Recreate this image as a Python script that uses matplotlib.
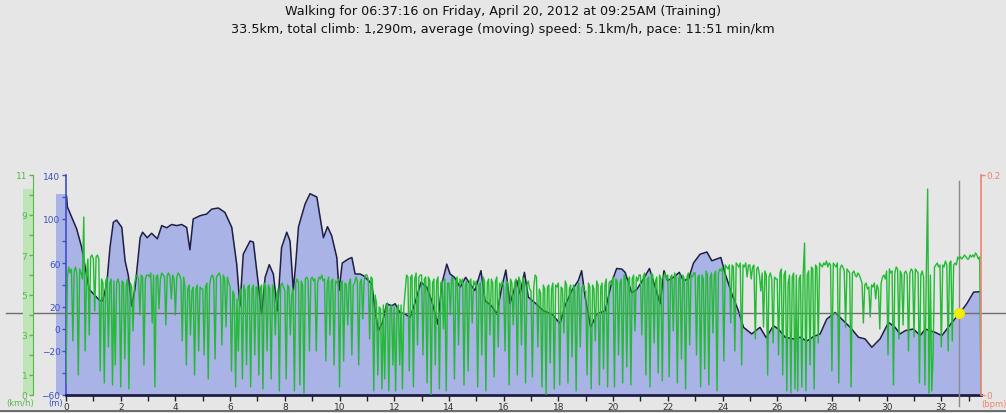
import numpy as np
import matplotlib
matplotlib.use("Agg")
import matplotlib.pyplot as plt
from matplotlib.lines import Line2D
from matplotlib.patches import Rectangle
from matplotlib.transforms import blended_transform_factory

title_1 = "Walking for 06:37:16 on Friday, April 20, 2012 at 09:25AM (Training)"
title_2 = "33.5km, total climb: 1,290m, average (moving) speed: 5.1km/h, pace: 11:51 min/km"

# elevation profile (km, m)
elev_km = [0.00, 0.02, 0.05, 0.39, 0.57, 0.85, 1.24, 1.34, 1.49, 1.61, 1.73, 1.85, 2.04, 2.16,
           2.28, 2.40, 2.52, 2.71, 2.80, 2.97, 3.13, 3.34, 3.50, 3.68, 3.86, 4.05, 4.23, 4.41,
           4.53, 4.65, 4.90, 5.14, 5.33, 5.57, 5.81, 6.06, 6.24, 6.36, 6.48, 6.73, 6.85, 7.03,
           7.15, 7.28, 7.43, 7.58, 7.73, 7.88, 8.07, 8.19, 8.31, 8.40, 8.50, 8.74, 8.92, 9.17,
           9.41, 9.56, 9.71, 9.90, 9.98, 10.10, 10.32, 10.45, 10.57, 10.75, 10.87, 11.00, 11.18,
           11.30, 11.42, 11.57, 11.72, 11.91, 12.03, 12.21, 12.40, 12.58, 12.76, 12.98, 13.19,
           13.37, 13.59, 13.74, 13.92, 14.04, 14.20, 14.41, 14.61, 14.77, 14.95, 15.17, 15.32,
           15.56, 15.75, 15.93, 16.08, 16.23, 16.48, 16.60, 16.76, 16.90, 17.18, 17.45, 17.76,
           18.06, 18.24, 18.49, 18.73, 18.85, 18.98, 19.18, 19.40, 19.71, 19.95, 20.13, 20.32,
           20.44, 20.68, 20.87, 21.11, 21.33, 21.54, 21.72, 21.86, 21.99, 22.21, 22.42, 22.57,
           22.76, 22.94, 23.18, 23.43, 23.61, 23.79, 23.94, 24.10, 24.34, 24.58, 24.77, 25.07,
           25.37, 25.60, 25.86, 26.04, 26.29, 26.59, 26.84, 27.08, 27.32, 27.57, 27.81, 28.12,
           28.36, 28.67, 28.97, 29.21, 29.46, 29.76, 30.07, 30.31, 30.49, 30.68, 30.98, 31.23,
           31.41, 31.77, 32.02, 32.39, 32.69, 32.93, 33.18, 33.42, 33.45]
elev_m = [121, 121, 111, 91, 74.5, 36, 25.7, 25.7, 41, 74.5, 97, 99, 92.4, 62,
          48.5, 21, 36, 83, 88, 83, 87, 82, 94, 92, 95, 94, 95, 92.4,
          72, 100, 103, 104.5, 109, 110, 106, 92.4, 59, 21, 68, 80, 79, 41,
          13.6, 47, 58.5, 50, 16.6, 74, 88, 80, 35, 60, 93, 113.6, 123, 120,
          83, 93, 85, 65, 35, 60, 63.6, 65, 50, 50, 48.5, 45.5, 41,
          16.6, -1.5, 6, 23, 21, 23, 15, 13.6, 10.6, 24, 42.5, 38,
          25.7, 4.5, 41, 59, 50, 47, 38, 47, 41, 35, 53, 25.7,
          21, 13.6, 38, 53.6, 23, 44, 32, 51.5, 29, 23, 16.6, 13.6,
          5, 21, 35, 44, 53, 29, 1.5, 13.6, 16.6, 42.5, 55, 54.5,
          51.5, 33, 36, 45.5, 55, 38, 23, 53, 44, 47, 51.5, 44,
          45.5, 60, 68, 70, 62, 63.6, 65, 50, 32, 16.6, 1.5, -4.5,
          1.5, -8, 3, 0, -7.5, -9, -7.5, -11, -7, -4.5, 9, 15,
          9, 1.5, -7.5, -9, -16.6, -9, 6, 1.5, -4.5, -1.5, 0, -6,
          0, -3, -6, 6, 15, 23, 33.5, 34, 34]

# speed every 0.05 km (km/h), one row per km
speed = [
    0.6, 5.9, 6.4, 6.1, 6.3, 2.7, 6.2, 6.4, 6.0, 1.0, 6.3, 6.1, 5.8, 8.9, 2.2, 6.0, 6.8, 3.0, 6.9, 7.0,
    6.8, 4.2, 6.9, 7.0, 6.8, 1.2, 5.8, 5.6, 0.6, 5.7, 5.9, 2.4, 5.6, 5.8, 0.5, 5.7, 1.5, 5.6, 5.8, 5.5,
    0.4, 5.7, 5.6, 1.8, 5.5, 5.8, 0.3, 5.6, 5.4, 3.2, 5.5, 5.9, 6.0, 5.8, 4.0, 6.0, 5.9, 1.5, 5.8, 6.0,
    6.0, 5.9, 6.1, 3.6, 6.0, 0.4, 5.9, 6.0, 4.3, 5.8, 6.1, 6.0, 5.9, 3.5, 6.0, 6.1, 5.9, 4.8, 6.0, 5.8,
    4.0, 5.9, 6.1, 6.0, 5.8, 2.7, 5.9, 5.4, 1.5, 5.3, 5.5, 3.0, 5.2, 5.4, 1.0, 5.3, 5.5, 2.2, 5.4, 5.3,
    5.3, 2.0, 5.4, 5.6, 0.8, 5.5, 5.9, 6.0, 5.8, 1.8, 5.9, 6.0, 6.1, 5.9, 2.5, 6.0, 5.8, 3.4, 5.9, 5.6,
    5.4, 1.2, 5.2, 5.0, 0.4, 4.8, 2.2, 5.1, 5.3, 0.8, 5.5, 5.2, 1.5, 5.4, 5.5, 0.4, 5.3, 5.5, 2.0, 5.4,
    5.4, 1.0, 5.3, 5.5, 0.3, 5.6, 5.4, 2.2, 5.5, 5.3, 0.8, 5.5, 5.2, 3.0, 5.0, 5.3, 0.2, 5.5, 5.6, 5.4,
    5.2, 0.8, 5.5, 5.4, 3.0, 5.0, 5.3, 0.2, 5.6, 5.8, 5.6, 0.5, 5.7, 5.5, 0.1, 5.8, 5.9, 5.7, 2.2, 5.8,
    5.9, 5.7, 5.8, 2.2, 5.6, 5.9, 5.8, 6.0, 5.7, 5.8, 1.7, 5.6, 5.9, 3.0, 5.7, 5.8, 1.5, 5.7, 5.6, 5.8,
    0.4, 5.6, 5.7, 1.7, 5.6, 5.5, 3.5, 5.6, 5.8, 2.0, 5.5, 5.6, 5.9, 5.7, 1.5, 5.6, 5.8, 3.8, 5.7, 6.0,
    6.0, 5.8, 2.8, 5.9, 5.8, 0.2, 5.0, 4.6, 1.0, 4.4, 4.3, 0.3, 4.5, 0.8, 4.4, 4.6, 0.2, 4.3, 4.5, 1.5,
    4.4, 0.2, 4.3, 4.5, 1.5, 4.5, 0.3, 4.4, 5.2, 6.0, 5.9, 1.2, 5.9, 6.0, 0.4, 5.8, 6.1, 2.5, 5.9, 6.0,
    6.0, 2.0, 5.8, 5.9, 0.6, 5.9, 5.7, 0.0, 5.6, 5.8, 1.5, 5.7, 5.9, 0.3, 5.6, 5.7, 3.3, 5.8, 0.2, 5.6,
    5.6, 4.0, 5.9, 5.8, 0.8, 5.7, 5.9, 2.5, 5.8, 5.6, 5.8, 0.5, 5.5, 5.7, 1.2, 5.6, 5.8, 3.6, 5.7, 5.5,
    5.7, 0.4, 5.5, 5.6, 2.0, 5.9, 5.7, 0.2, 5.6, 5.8, 3.0, 5.8, 5.6, 0.9, 5.7, 5.9, 2.4, 5.6, 5.4, 5.7,
    5.4, 2.2, 5.7, 5.6, 0.5, 5.8, 5.6, 3.5, 5.6, 5.8, 1.0, 5.9, 5.7, 2.5, 5.9, 5.6, 0.6, 5.5, 5.7, 5.3,
    5.2, 0.9, 5.4, 6.0, 5.9, 2.4, 5.3, 5.1, 0.4, 5.5, 5.3, 0.0, 5.4, 5.5, 1.6, 5.3, 5.6, 0.3, 5.5, 5.4,
    5.6, 0.5, 5.4, 5.3, 3.1, 5.7, 5.5, 0.6, 5.3, 5.5, 1.9, 5.5, 5.2, 0.2, 5.4, 5.6, 2.4, 5.3, 5.5, 5.2,
    5.2, 1.0, 5.6, 5.4, 0.3, 5.5, 5.3, 2.7, 5.7, 5.5, 0.5, 5.4, 5.6, 1.3, 5.5, 5.8, 0.4, 5.6, 5.7, 5.5,
    5.9, 0.4, 5.8, 5.7, 2.0, 5.6, 5.8, 0.6, 6.0, 5.9, 1.4, 5.7, 5.9, 0.5, 5.8, 6.0, 3.2, 5.9, 5.7, 6.0,
    6.0, 3.0, 5.9, 6.1, 1.0, 5.8, 5.9, 0.4, 6.1, 6.0, 2.6, 5.7, 5.9, 1.1, 6.0, 5.8, 0.7, 5.9, 6.1, 5.8,
    6.0, 0.9, 5.9, 6.0, 3.2, 6.1, 5.9, 0.6, 5.8, 6.0, 1.8, 6.0, 5.8, 0.3, 5.9, 6.1, 2.5, 6.0, 5.9, 6.1,
    6.1, 2.0, 5.9, 6.0, 0.4, 6.0, 5.8, 1.3, 6.2, 6.0, 0.5, 5.9, 6.1, 3.1, 6.0, 6.2, 0.2, 6.1, 6.3, 6.2,
    6.4, 1.7, 6.5, 6.4, 6.3, 6.5, 3.6, 6.5, 6.4, 2.2, 6.6, 6.5, 6.4, 6.6, 1.5, 6.5, 6.4, 6.6, 5.9, 6.5,
    6.5, 5.8, 6.4, 6.5, 2.8, 6.3, 6.4, 6.0, 5.2, 6.1, 3.4, 6.2, 6.0, 1.0, 5.9, 6.1, 5.8, 2.6, 5.9, 5.8,
    5.8, 2.0, 6.1, 6.3, 1.0, 6.0, 6.2, 0.2, 5.6, 6.0, 0.1, 5.9, 6.1, 0.3, 6.0, 0.2, 5.8, 6.0, 0.4, 6.1,
    7.6, 0.2, 6.0, 6.2, 1.5, 6.4, 6.3, 0.3, 6.5, 6.4, 2.6, 6.6, 6.5, 6.4, 6.6, 6.5, 6.7, 6.4, 6.6, 6.5,
    1.2, 6.6, 6.5, 6.4, 6.6, 0.6, 6.3, 6.5, 6.4, 6.2, 3.4, 6.3, 6.2, 6.1, 0.4, 6.1, 6.2, 6.0, 5.9, 6.1,
    6.0, 5.8, 5.6, 3.6, 5.5, 5.6, 5.3, 5.4, 3.9, 5.5, 5.4, 5.6, 4.8, 5.5, 5.3, 3.3, 5.6, 5.9, 6.0, 5.8,
    6.2, 2.0, 6.3, 6.1, 6.2, 0.5, 6.1, 6.4, 6.3, 2.8, 6.2, 6.0, 3.5, 6.1, 6.2, 6.0, 2.2, 6.1, 6.3, 6.2,
    2.9, 6.3, 6.2, 6.1, 0.6, 6.0, 6.2, 5.9, 0.5, 6.1, 10.3, 0.1, 6.0, 0.2, 2.0, 6.4, 6.5, 6.6, 6.4, 6.5,
    2.4, 6.5, 6.4, 6.7, 6.5, 2.2, 6.6, 6.7, 2.7, 6.5, 6.6, 6.5, 6.9, 6.8, 6.9, 6.8, 6.9, 7.0, 6.9, 6.8,
    6.8, 7.0, 6.9, 7.0, 6.9, 7.1, 7.0, 6.8, 6.9, 0.0,
]
speed_km = np.arange(len(speed)) * 0.05

x_ticks = list(range(0, 34, 2))
elev_ticks = [140, 100, 60, 20, 0, -20, -60]
elev_minor = [120, 80, 40, -40]
speed_ticks = [11, 9, 7, 5, 3, 1, 0]
speed_minor = [10, 8, 6, 4, 2]

total_km = 33.45
cursor_km = 32.65
cursor_elev = 15

bg = "#e6e6e6"
fill_col = "#aab3e6"
line_col = "#1e1e46"
green = "#22bb33"
green_txt = "#55b84a"
blue_txt = "#3c4fc8"
red = "#ee8470"

fig = plt.figure(figsize=(10.06, 4.14), dpi=100, facecolor=bg)
W, H = 1006, 414
ax = fig.add_axes([66 / W, 18 / H, 915 / W, 220 / H])
ax.set_facecolor(bg)

ax.fill_between(elev_km, elev_m, -60, color=fill_col, lw=0)
ax.plot(elev_km, elev_m, color=line_col, lw=1.1)
ax.set_xlim(0, total_km)
ax.set_ylim(-60, 140)

for s in ["top", "right"]:
    ax.spines[s].set_visible(False)
ax.spines["bottom"].set_color(line_col)
ax.spines["bottom"].set_linewidth(2)
ax.spines["left"].set_color(blue_txt)
ax.spines["left"].set_linewidth(1.2)

ax.set_xticks(x_ticks)
ax.set_xticks(range(1, 34, 2), minor=True)
ax.tick_params(axis="x", which="both", length=4, width=1, color="#222222",
               labelsize=6.5, labelcolor="#333333", pad=1)
ax.set_yticks(elev_ticks)
ax.set_yticks(elev_minor, minor=True)
ax.tick_params(axis="y", which="both", length=3, width=1, color=blue_txt,
               labelsize=6.5, labelcolor=blue_txt, pad=1)

# band showing elevation range
ax.add_patch(Rectangle((-10 / 915 * total_km, -60), 10 / 915 * total_km, max(elev_m) + 60,
                       color=fill_col, lw=0, clip_on=False))

# speed axis (left, outward)
ax2 = ax.twinx()
ax2.plot(speed_km, speed, color=green, lw=1.0)
ax2.set_ylim(0, 11)
ax2.yaxis.set_ticks_position("left")
ax2.yaxis.set_label_position("left")
ax2.spines["left"].set_visible(True)
ax2.spines["left"].set_position(("outward", 33 * 72 / 100))
ax2.spines["left"].set_color(green_txt)
for s in ["top", "right", "bottom"]:
    ax2.spines[s].set_visible(False)
ax2.set_yticks(speed_ticks)
ax2.set_yticks(speed_minor, minor=True)
ax2.tick_params(axis="y", which="both", length=3, width=1, color=green_txt,
                labelsize=6.5, labelcolor=green_txt, pad=1)
tr = blended_transform_factory(fig.transFigure, ax2.transData)
ax2.add_patch(Rectangle((23 / W, 0), 10 / W, max(speed), transform=tr,
                        color="#bfe4b8", lw=0, clip_on=False, zorder=0))

# heart rate axis (right)
ax3 = ax.twinx()
ax3.set_ylim(0, 0.2)
for s in ["top", "left", "bottom"]:
    ax3.spines[s].set_visible(False)
ax3.spines["right"].set_color(red)
ax3.spines["right"].set_linewidth(1.2)
ax3.set_yticks([0, 0.2])
ax3.set_yticklabels(["0", "0.2"])
ax3.tick_params(axis="y", length=3, width=1, color=red, labelsize=6.5,
                labelcolor=red, pad=1)

# cursor
ax.axhline(cursor_elev, xmin=-60 / 915, xmax=940 / 915, color="#6e6e6e", lw=1,
           clip_on=False, zorder=5)
ax.axvline(cursor_km, ymin=-0.05, ymax=(396 - 182) / 220, color="#8a8a8a", lw=1,
           clip_on=False, zorder=5)
ax.plot([cursor_km], [cursor_elev], "o", ms=7, color="#f2f200", mec="#e8e800", zorder=6,
        clip_on=False)

# unit labels
fig.text(20 / W, 1 - 404 / H, "(km/h)", color=green_txt, fontsize=6, ha="center", va="center")
fig.text(56 / W, 1 - 404 / H, "(m)", color=blue_txt, fontsize=6, ha="center", va="center")
fig.text(994 / W, 1 - 405 / H, "(bpm)", color=red, fontsize=6, ha="center", va="center")

fig.add_artist(Line2D([0, 1], [1 - 411.5 / H, 1 - 411.5 / H], color="#555555", lw=1.2))

fig.text(0.5, 1 - 12 / H, title_1, ha="center", va="center", fontsize=9.15, color="#111111")
fig.text(0.5, 1 - 29 / H, title_2, ha="center", va="center", fontsize=9.15, color="#111111")

fig.savefig("out.png", dpi=100, facecolor=bg)
